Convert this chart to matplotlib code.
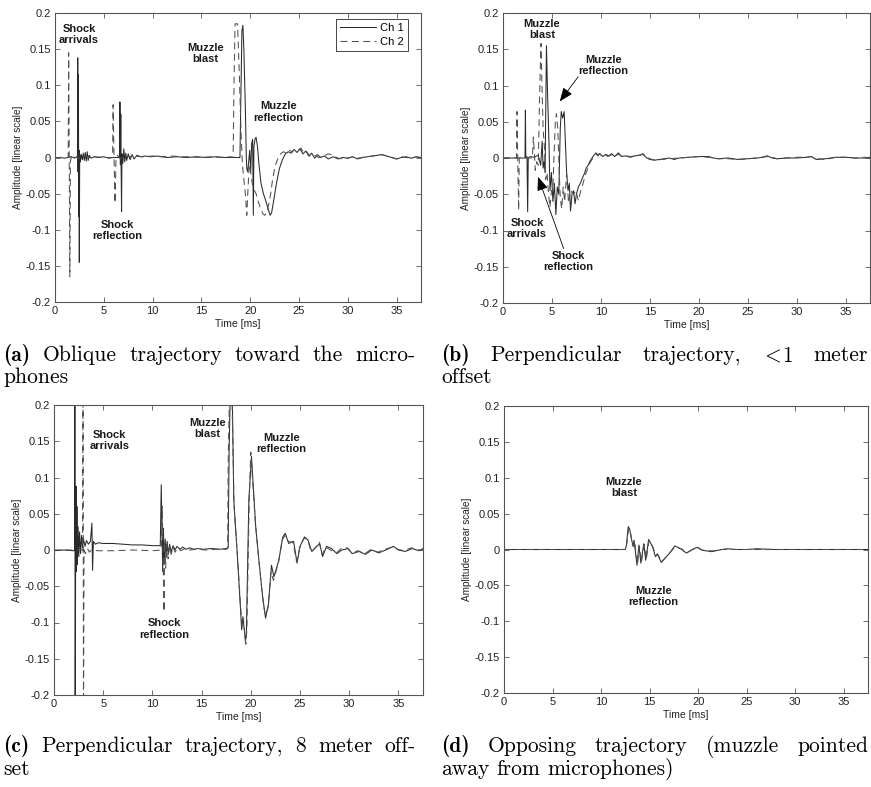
import matplotlib
matplotlib.use("Agg")
import matplotlib.pyplot as plt

# ---------------------------------------------------------------- data
x_ticks = [0, 5, 10, 15, 20, 25, 30, 35]
x_tick_labels = ["0", "5", "10", "15", "20", "25", "30", "35"]
y_ticks = [-0.2, -0.15, -0.1, -0.05, 0, 0.05, 0.1, 0.15, 0.2]
y_tick_labels = ["-0.2", "-0.15", "-0.1", "-0.05", "0", "0.05", "0.1", "0.15", "0.2"]
series_names = ["Ch 1", "Ch 2"]

# (a) oblique trajectory
a_ch1_t = [0, 0.5, 1.0, 1.5, 2.0, 2.3, 2.33, 2.36, 2.40, 2.43, 2.46, 2.49, 2.53, 2.6, 2.7, 2.8,
           2.9, 3.0, 3.1, 3.2, 3.3, 3.4, 3.5, 3.7, 4.0, 4.5, 5.0, 5.5, 6.0, 6.5, 6.62, 6.65,
           6.70, 6.74, 6.78, 6.82, 6.86, 6.95, 7.05, 7.15, 7.25, 7.35, 7.5, 7.7, 7.9, 8.1, 8.4,
           8.8, 9.2, 9.8, 10.5, 11.5, 12.5, 13.5, 14.5, 15.5, 16.5, 17.5, 18.5, 18.95, 19.05,
           19.15, 19.25, 19.35, 19.5, 19.6, 19.65, 19.75, 19.85, 19.95, 20.05, 20.15, 20.25,
           20.32, 20.38, 20.5, 20.6, 20.75, 20.9, 21.1, 21.35, 21.6, 21.85, 22.05, 22.2, 22.4,
           22.7, 23.0, 23.3, 23.6, 23.9, 24.2, 24.5, 24.8, 25.1, 25.4, 25.7, 26.0, 26.3, 26.6,
           26.9, 27.2, 27.6, 28.0, 28.5, 29.0, 29.5, 30.0, 30.5, 31.0, 31.5, 32.0, 32.5, 33.0,
           33.5, 34.0, 34.5, 35.0, 35.5, 36.0, 36.5, 37.0, 37.5]
a_ch1_amp = [0.000, 0.000, -0.001, 0.001, 0.000, 0.000, 0.138, -0.020, 0.115, -0.082, 0.010,
             -0.145, 0.005, -0.006, 0.004, -0.003, 0.006, -0.004, 0.007, -0.005, 0.008, -0.004,
             0.003, -0.001, 0.001, 0.000, 0.001, -0.001, 0.000, 0.000, 0.000, 0.077, -0.010,
             0.060, -0.020, -0.075, 0.005, -0.008, 0.012, -0.006, 0.006, -0.004, 0.005, -0.003,
             0.004, -0.002, 0.003, 0.001, 0.002, 0.001, 0.002, 0.000, 0.001, 0.000, 0.001, 0.000,
             0.001, 0.000, 0.000, 0.000, 0.090, 0.175, 0.183, 0.150, 0.070, 0.000, -0.015,
             -0.020, -0.005, 0.010, -0.020, 0.020, 0.025, -0.080, 0.015, 0.026, 0.028, 0.015,
             -0.010, -0.035, -0.050, -0.060, -0.072, -0.080, -0.076, -0.060, -0.035, -0.015,
             -0.003, 0.005, 0.008, 0.006, 0.011, 0.007, 0.012, 0.005, 0.009, 0.002, 0.006,
             -0.001, 0.004, 0.000, 0.002, -0.002, 0.001, -0.002, 0.000, -0.001, 0.001, -0.002,
             0.000, 0.001, 0.002, 0.003, 0.004, 0.002, 0.000, -0.002, 0.000, 0.001, -0.001,
             0.001, 0.000]
a_ch2_t = [0, 0.5, 1.0, 1.35, 1.40, 1.45, 1.52, 1.58, 1.7, 1.9, 2.2, 2.6, 3.0, 3.5, 4.0, 5.0,
           5.9, 5.95, 6.05, 6.15, 6.25, 6.4, 6.7, 7.0, 7.5, 8.0, 9.0, 10.0, 11.0, 12.0, 13.0,
           14.0, 15.0, 16.0, 17.0, 18.0, 18.25, 18.35, 18.45, 18.7, 18.85, 19.05, 19.2, 19.35,
           19.5, 19.65, 19.75, 19.9, 20.05, 20.2, 20.4, 20.6, 20.8, 21.05, 21.3, 21.5, 21.7,
           21.9, 22.1, 22.3, 22.55, 22.8, 23.1, 23.4, 23.7, 24.0, 24.3, 24.6, 24.9, 25.2, 25.5,
           25.8, 26.1, 26.5, 27.0, 27.5, 28.0, 28.5, 29.0, 29.5, 30.0, 30.5, 31.0, 32.0, 33.0,
           33.5, 34.0, 34.5, 35.0, 35.5, 36.0, 36.5, 37.0, 37.5]
a_ch2_amp = [0.000, 0.000, 0.000, 0.000, 0.145, 0.020, -0.165, -0.005, 0.002, -0.002, 0.001,
             -0.002, 0.002, 0.000, 0.001, 0.000, 0.000, 0.073, 0.000, -0.063, -0.003, 0.003,
             -0.002, 0.002, 0.001, 0.002, 0.001, 0.002, 0.001, 0.002, 0.001, 0.001, 0.000,
             0.001, 0.000, 0.001, 0.000, 0.110, 0.185, 0.185, 0.130, 0.040, -0.010, -0.030,
             -0.050, -0.080, -0.050, -0.010, -0.020, -0.035, -0.045, -0.050, -0.060, -0.070,
             -0.078, -0.080, -0.075, -0.065, -0.050, -0.030, -0.012, -0.003, 0.005, 0.008,
             0.006, 0.010, 0.008, 0.012, 0.010, 0.013, 0.006, 0.008, 0.002, 0.004, 0.000,
             0.002, 0.005, 0.003, -0.001, -0.002, -0.001, 0.001, -0.001, 0.001, 0.003, 0.004,
             0.002, 0.000, -0.002, 0.001, 0.000, -0.001, 0.001, -0.001]

# (b) perpendicular trajectory, <1 m offset
b_ch1_t = [0, 1.0, 2.0, 2.25, 2.29, 2.33, 2.45, 2.52, 2.58, 2.8, 3.2, 3.6, 3.85, 4.0, 4.1, 4.2,
           4.3, 4.44, 4.55, 4.7, 4.8, 4.95, 5.1, 5.25, 5.4, 5.55, 5.7, 5.85, 5.95, 6.1, 6.25,
           6.35, 6.5, 6.65, 6.78, 6.9, 7.05, 7.2, 7.36, 7.5, 7.7, 7.9, 8.1, 8.3, 8.5, 8.7, 8.9,
           9.1, 9.3, 9.5, 9.7, 9.9, 10.2, 10.5, 10.8, 11.1, 11.4, 11.8, 12.1, 12.5, 13.0, 13.5,
           14.0, 14.3, 14.6, 15.0, 15.5, 16.0, 16.5, 17.0, 17.5, 18.0, 19.0, 20.0, 21.0, 21.5,
           22.0, 23.0, 24.0, 25.0, 26.0, 26.5, 27.0, 27.5, 28.0, 29.0, 30.0, 31.0, 31.5, 32.0,
           33.0, 34.0, 35.0, 36.0, 37.0, 37.5]
b_ch1_amp = [0.000, 0.000, 0.000, 0.000, 0.066, 0.000, 0.002, -0.074, 0.000, 0.002, 0.001,
             0.004, -0.010, 0.023, -0.014, -0.005, -0.020, 0.155, 0.090, 0.020, -0.045, -0.020,
             -0.060, -0.035, -0.078, -0.040, -0.050, 0.040, 0.064, 0.055, 0.064, 0.030, -0.020,
             -0.045, -0.035, -0.073, -0.050, -0.045, -0.063, -0.050, -0.040, -0.035, -0.028,
             -0.022, -0.014, -0.010, -0.004, 0.000, 0.004, 0.007, 0.003, 0.006, 0.002, 0.005,
             0.003, 0.006, 0.002, 0.007, 0.002, 0.003, 0.001, 0.003, 0.004, 0.006, 0.001,
             -0.002, -0.003, -0.002, -0.001, 0.000, -0.002, 0.000, 0.001, 0.002, 0.002, 0.000,
             -0.001, 0.000, -0.002, -0.001, 0.000, 0.001, 0.003, 0.000, -0.001, 0.000, 0.000,
             0.001, 0.002, -0.002, -0.001, 0.001, 0.001, 0.000, 0.000, 0.001]
b_ch2_t = [0, 1.0, 1.38, 1.43, 1.5, 1.6, 1.66, 2.0, 2.5, 3.0, 3.1, 3.2, 3.3, 3.45, 3.6, 3.75,
           3.88, 3.98, 4.1, 4.25, 4.35, 4.5, 4.65, 4.8, 4.95, 5.1, 5.2, 5.35, 5.46, 5.6, 5.75,
           5.85, 6.0, 6.15, 6.3, 6.5, 6.7, 6.9, 7.2, 7.45, 7.7, 7.95, 8.2, 8.45, 8.7, 8.95, 9.2,
           9.5, 9.8, 10.1, 10.4, 10.7, 11.0, 11.4, 11.8, 12.2, 12.6, 13.0, 13.5, 14.0, 14.3,
           14.7, 15.2, 15.7, 16.2, 17.0, 18.0, 19.0, 20.0, 21.0, 22.0, 23.0, 24.0, 25.0, 26.0,
           27.0, 27.5, 28.0, 29.0, 30.0, 31.0, 31.5, 32.0, 33.0, 34.0, 35.0, 36.0, 37.0, 37.5]
b_ch2_amp = [0.000, 0.000, 0.000, 0.064, 0.000, -0.072, 0.000, 0.001, 0.000, 0.000, 0.029,
             0.010, -0.017, -0.005, -0.010, 0.090, 0.158, 0.100, 0.040, 0.011, -0.030, -0.020,
             -0.050, -0.068, -0.045, -0.045, 0.000, 0.050, 0.061, 0.040, -0.020, -0.055, -0.070,
             -0.040, -0.060, -0.022, -0.062, -0.045, -0.050, -0.045, -0.059, -0.045, -0.034,
             -0.022, -0.013, -0.005, 0.000, 0.004, 0.006, 0.003, 0.005, 0.002, 0.004, 0.003,
             0.005, 0.002, 0.003, 0.002, 0.003, 0.004, 0.005, 0.001, -0.002, -0.003, -0.002,
             -0.001, 0.000, 0.001, 0.002, 0.001, -0.001, -0.001, -0.002, -0.001, 0.000, 0.002,
             0.001, -0.001, 0.000, 0.001, 0.001, 0.002, -0.001, -0.002, 0.001, 0.001, 0.000,
             0.001, 0.000]

# (c) perpendicular trajectory, 8 m offset
c_ch1_t = [0, 1.0, 2.0, 2.1, 2.12, 2.15, 2.2, 2.24, 2.28, 2.33, 2.38, 2.45, 2.52, 2.6, 2.7,
           2.8, 2.9, 3.0, 3.15, 3.3, 3.5, 3.7, 3.85, 3.92, 4.0, 4.2, 4.5, 5.0, 6.0, 7.0, 8.0,
           9.0, 10.0, 10.8, 10.9, 10.98, 11.05, 11.12, 11.2, 11.3, 11.4, 11.5, 11.6, 11.75,
           11.9, 12.1, 12.3, 12.5, 12.8, 13.1, 13.4, 13.8, 14.2, 14.6, 15.2, 16.0, 16.8, 17.5,
           17.7, 17.8, 17.95, 18.1, 18.27, 18.6, 18.9, 19.07, 19.2, 19.45, 19.55, 19.8, 20.07,
           20.5, 20.85, 21.2, 21.5, 21.8, 22.1, 22.35, 22.85, 23.25, 23.5, 23.85, 24.35, 24.7,
           25.0, 25.45, 25.8, 26.2, 26.7, 27.0, 27.3, 27.7, 28.2, 28.75, 29.25, 29.9, 30.3,
           31.0, 31.65, 32.3, 33.0, 33.7, 34.5, 35.0, 35.7, 36.4, 37.1, 37.5]
c_ch1_amp = [-0.001, 0.000, -0.001, 0.000, 0.250, -0.250, 0.000, 0.088, -0.030, 0.060, -0.020,
             0.032, -0.009, 0.025, -0.005, 0.020, 0.003, 0.015, 0.005, 0.013, 0.008, 0.012,
             0.037, -0.028, 0.012, 0.008, 0.010, 0.009, 0.009, 0.008, 0.007, 0.007, 0.006,
             0.006, 0.090, 0.020, -0.030, 0.030, -0.020, 0.015, -0.010, 0.012, -0.006, 0.008,
             -0.003, 0.006, 0.000, 0.005, 0.001, 0.004, 0.001, 0.003, 0.001, 0.002, 0.001,
             0.002, 0.001, 0.002, 0.003, 0.140, 0.240, 0.230, 0.069, 0.000, -0.069, -0.110,
             -0.092, -0.126, -0.115, 0.069, 0.129, 0.032, -0.018, -0.064, -0.094, -0.074,
             -0.021, -0.037, -0.014, 0.018, 0.023, 0.009, 0.012, -0.018, 0.005, 0.018, 0.014,
             -0.002, 0.005, 0.009, -0.009, 0.005, 0.002, -0.005, 0.000, 0.002, -0.005, -0.002,
             -0.006, 0.000, -0.004, 0.000, 0.005, 0.000, -0.002, 0.002, -0.001, 0.002]
c_ch2_t = [0, 1.0, 2.0, 2.9, 2.95, 3.0, 3.05, 3.2, 3.4, 3.6, 3.8, 4.5, 6.0, 8.0, 10.0, 10.9,
           11.0, 11.1, 11.18, 11.25, 11.35, 11.45, 11.6, 11.75, 11.9, 12.1, 12.3, 12.6, 12.9,
           13.3, 13.8, 14.5, 15.5, 16.5, 17.5, 17.65, 17.7, 17.85, 18.05, 18.3, 18.65, 18.95,
           19.1, 19.25, 19.5, 19.6, 19.85, 20.0, 20.45, 20.8, 21.15, 21.45, 21.75, 22.05, 22.3,
           22.8, 23.2, 23.45, 23.8, 24.3, 24.65, 24.95, 25.4, 25.75, 26.15, 26.6, 26.95, 27.25,
           27.6, 28.1, 28.7, 29.2, 29.8, 30.25, 30.9, 31.6, 32.25, 32.9, 33.6, 34.4, 34.9,
           35.6, 36.3, 37.0, 37.5]
c_ch2_amp = [0.000, 0.000, 0.000, 0.000, 0.250, -0.250, 0.000, -0.005, 0.002, -0.003, 0.000,
             -0.001, -0.001, 0.000, -0.001, 0.000, 0.060, -0.020, -0.085, 0.010, -0.025, 0.008,
             -0.012, 0.005, -0.006, 0.004, -0.003, 0.003, -0.001, 0.002, 0.000, 0.001, 0.000,
             0.001, 0.001, 0.002, 0.120, 0.230, 0.240, 0.060, -0.010, -0.075, -0.105, -0.095,
             -0.130, -0.110, 0.075, 0.135, 0.040, -0.012, -0.060, -0.090, -0.080, -0.030,
             -0.042, -0.018, 0.014, 0.020, 0.012, 0.010, -0.016, 0.002, 0.016, 0.015, -0.003,
             0.004, 0.011, -0.007, 0.004, 0.000, -0.004, 0.002, 0.003, -0.004, -0.001, -0.005,
             0.001, -0.003, 0.001, 0.004, 0.001, -0.001, 0.003, 0.000, 0.001]

# (d) opposing trajectory
d_ch1_t = [0, 5, 10, 12.5, 12.6, 12.8, 12.95, 13.1, 13.3, 13.4, 13.7, 13.9, 14.1, 14.4, 14.6,
           14.9, 15.3, 15.6, 15.8, 16.2, 16.6, 17.0, 17.6, 18.2, 18.8, 19.4, 19.9, 20.4, 21.4,
           22.4, 23, 24, 25, 26, 28, 30, 32, 35, 37.5]
d_ch1_amp = [0.000, 0.000, 0.000, 0.000, 0.005, 0.032, 0.028, 0.017, 0.004, 0.013, -0.022,
             0.006, -0.019, 0.008, -0.015, 0.014, 0.004, -0.010, -0.006, -0.018, -0.012,
             -0.006, 0.005, 0.001, -0.005, 0.000, 0.003, -0.001, -0.003, 0.000, 0.001, 0.000,
             0.000, 0.001, 0.000, 0.000, 0.000, 0.000, 0.000]
d_ch2_t = [0, 5, 10, 12.55, 12.65, 12.85, 13.0, 13.15, 13.35, 13.45, 13.75, 13.95, 14.15,
           14.45, 14.65, 14.95, 15.35, 15.65, 15.85, 16.25, 16.65, 17.05, 17.65, 18.25, 18.85,
           19.45, 19.95, 20.45, 21.45, 22.45, 24, 26, 30, 35, 37.5]
d_ch2_amp = [0.000, 0.000, 0.000, 0.000, 0.008, 0.030, 0.026, 0.014, 0.005, 0.012, -0.021,
             0.005, -0.018, 0.007, -0.014, 0.013, 0.003, -0.009, -0.007, -0.017, -0.011,
             -0.005, 0.004, 0.001, -0.004, 0.000, 0.003, -0.001, -0.002, 0.000, 0.000, 0.000,
             0.000, 0.000, 0.000]

# ---------------------------------------------------------------- layout
W, H = 871, 787
plt.rcParams["font.family"] = ["Liberation Sans", "DejaVu Sans"]
plt.rcParams["mathtext.fontset"] = "cm"
plt.rcParams["lines.scale_dashes"] = False

fig = plt.figure(figsize=(W / 100, H / 100), dpi=100)


def px_rect(left, top, right, bottom):
    return [left / W, 1 - bottom / H, (right - left) / W, (bottom - top) / H]


panels = [
    dict(rect=px_rect(55, 13, 421, 302), ch1=(a_ch1_t, a_ch1_amp), ch2=(a_ch2_t, a_ch2_amp),
         notes=[("Shock\narrivals", 2.46, 0.170), ("Shock\nreflection", 6.37, -0.101),
                ("Muzzle\nblast", 15.4, 0.144), ("Muzzle\nreflection", 22.9, 0.063)],
         arrows=[], legend=True),
    dict(rect=px_rect(503, 13, 870, 303), ch1=(b_ch1_t, b_ch1_amp), ch2=(b_ch2_t, b_ch2_amp),
         notes=[("Muzzle\nblast", 3.99, 0.177), ("Muzzle\nreflection", 10.24, 0.128),
                ("Shock\narrivals", 2.46, -0.097), ("Shock\nreflection", 6.65, -0.143)],
         arrows=[((5.8, 0.078), (7.68, 0.112)), ((3.58, -0.026), (6.2, -0.125))],
         legend=False),
    dict(rect=px_rect(54, 405, 423, 695), ch1=(c_ch1_t, c_ch1_amp), ch2=(c_ch2_t, c_ch2_amp),
         notes=[("Shock\narrivals", 5.68, 0.151), ("Shock\nreflection", 11.2, -0.109),
                ("Muzzle\nblast", 15.6, 0.168), ("Muzzle\nreflection", 23.1, 0.147)],
         arrows=[], legend=False),
    dict(rect=px_rect(504, 406, 868, 693), ch1=(d_ch1_t, d_ch1_amp), ch2=(d_ch2_t, d_ch2_amp),
         notes=[("Muzzle\nblast", 12.35, 0.086), ("Muzzle\nreflection", 15.4, -0.066)],
         arrows=[], legend=False),
]

for p in panels:
    ax = fig.add_axes(p["rect"])
    ax.plot(*p["ch1"], color="#2a2a2a", lw=0.75, label=series_names[0])
    ax.plot(*p["ch2"], color="#505050", lw=0.75, dashes=(5, 3.2), label=series_names[1])
    ax.set_xlim(0, 37.5)
    ax.set_ylim(-0.2, 0.2)
    ax.set_xticks(x_ticks)
    ax.set_xticklabels(x_tick_labels)
    ax.set_yticks(y_ticks)
    ax.set_yticklabels(y_tick_labels)
    ax.tick_params(direction="in", top=True, right=True, length=3.5, width=0.6,
                   color="#555555", labelcolor="#222222", labelsize=8, pad=3)
    for s in ax.spines.values():
        s.set_color("#555555")
        s.set_linewidth(0.8)
    ax.set_xlabel("Time [ms]", fontsize=7.5, color="#222222", labelpad=2)
    ax.set_ylabel("Amplitude [linear scale]", fontsize=7.2, color="#222222", labelpad=2)
    for txt, tx, ty in p["notes"]:
        ax.text(tx, ty, txt, ha="center", va="center", fontsize=8, fontweight="bold",
                color="#1a1a1a", linespacing=1.15)
    for tip, tail in p["arrows"]:
        ax.annotate("", xy=tip, xytext=tail,
                    arrowprops=dict(arrowstyle="-|>,head_length=0.7,head_width=0.28",
                                    color="black", lw=0.6, shrinkA=0, shrinkB=0,
                                    mutation_scale=12))
    if p["legend"]:
        leg = ax.legend(loc="upper right", bbox_to_anchor=((408 - 55) / 366, 1 - 6 / 289),
                        borderaxespad=0, fontsize=8, handlelength=3.2, handletextpad=0.4,
                        labelspacing=0.35, borderpad=0.35, fancybox=False, framealpha=1)
        leg.get_frame().set_edgecolor("#444444")
        leg.get_frame().set_linewidth(0.7)

# ---------------------------------------------------------------- captions
CAP_SIZE = 15.5
renderer = fig.canvas.get_renderer()


def caption_line(words, x0, x1, y, justify=True):
    """Place words on one line from x0 to x1 (pixels), spreading the gaps evenly."""
    items = []
    for w in words:
        fam = "cmb10" if w.startswith("(") and len(w) == 3 else "cmr10"
        t = fig.text(0, 1 - y / H, w, fontsize=CAP_SIZE, family=fam, va="baseline",
                     ha="left", color="black")
        items.append(t)
    widths = [t.get_window_extent(renderer).width for t in items]
    if justify and len(items) > 1:
        gap = (x1 - x0 - sum(widths)) / (len(items) - 1)
    else:
        gap = 0.33 * CAP_SIZE * 100 / 72
    x = x0
    for t, wd in zip(items, widths):
        t.set_x(x / W)
        x += wd + gap


caption_line(["(a)", "Oblique", "trajectory", "toward", "the", "micro-"], 3, 416, 361)
caption_line(["phones"], 3, 416, 383, justify=False)
caption_line(["(b)", "Perpendicular", "trajectory,", r"$<\!$1", "meter"], 441, 868, 361)
caption_line(["offset"], 441, 868, 383, justify=False)
caption_line(["(c)", "Perpendicular", "trajectory,", "8", "meter", "off-"], 3, 416, 752)
caption_line(["set"], 3, 416, 775, justify=False)
caption_line(["(d)", "Opposing", "trajectory", "(muzzle", "pointed"], 441, 868, 752)
caption_line(["away", "from", "microphones)"], 441, 868, 775, justify=False)

fig.savefig("out.png", dpi=100)
